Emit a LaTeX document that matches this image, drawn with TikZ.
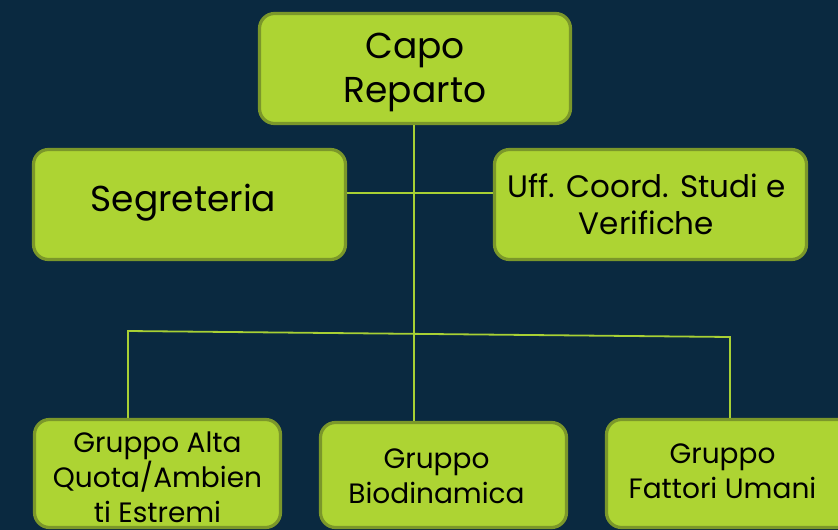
\documentclass[tikz,border=0pt]{standalone}
\usepackage{fontspec}
\setmainfont{Poppins}
\definecolor{bgc}{HTML}{0A2940}
\definecolor{boxfill}{HTML}{ADD433}
\definecolor{boxline}{HTML}{7B972A}
\definecolor{conn}{HTML}{A8D034}
\tikzset{
  orgbox/.style={draw=boxline, fill=boxfill, line width=3.2pt, rounded corners=15pt,
    inner sep=0pt},
  orgtext/.style={align=center, text=black, inner sep=0pt},
  bigtext/.style={orgtext, font=\fontsize{36}{44}\selectfont},
  midtext/.style={orgtext, font=\fontsize{31}{37}\selectfont},
  smalltext/.style={orgtext, font=\fontsize{28}{35}\selectfont},
  conline/.style={draw=conn, line width=1.8pt},
}
\begin{document}
\begin{tikzpicture}[x=1pt,y=-1pt]
\useasboundingbox (0,0) rectangle (838,530);
\fill[bgc] (0,0) rectangle (838,530);
\begin{scope}
\clip (0,0) rectangle (838,530);
\node[orgbox, minimum width=311pt, minimum height=110pt] (capo) at (415,68.5) {};
\node[orgbox, minimum width=312pt, minimum height=110pt] (segr) at (189.5,204.5) {};
\node[orgbox, minimum width=312pt, minimum height=110pt] (uff) at (650.5,204.5) {};
\node[orgbox, minimum width=246pt, minimum height=108pt] (alta) at (157.5,473.5) {};
\node[orgbox, minimum width=246pt, minimum height=105pt] (bio) at (443.5,475) {};
\node[orgbox, minimum width=246pt, minimum height=108pt] (fat) at (729.5,473.5) {};
\node[bigtext] (capoT) at ([yshift=-4pt]capo.center) {Capo\\Reparto};
\node[bigtext] (segrT) at ([xshift=-6pt,yshift=2pt]segr.center) {Segreteria};
\node[midtext] (uffT) at ([xshift=-4pt]uff.center) {Uff. Coord. Studi e\\Verifiche};
\node[smalltext] (altaT) at ([yshift=-4pt]alta.center) {Gruppo Alta\\Quota/Ambien\\ti Estremi};
\node[smalltext] (bioT) at ([xshift=-7pt,yshift=-1pt]bio.center) {Gruppo\\Biodinamica};
\node[smalltext] (fatT) at ([xshift=-7pt,yshift=2pt]fat.center) {Gruppo\\Fattori Umani};
\end{scope}
\coordinate (jl) at (128,331);
\coordinate (jr) at (730,337);
\draw[conline] (capo.south -| 414,0) -- (bio.north -| 414,0);
\draw[conline] (segr.east |- 0,193) -- (uff.west |- 0,193);
\draw[conline] (alta.north -| jl) -- (jl) -- (jr) -- (fat.north -| jr);
\end{tikzpicture}
\end{document}
